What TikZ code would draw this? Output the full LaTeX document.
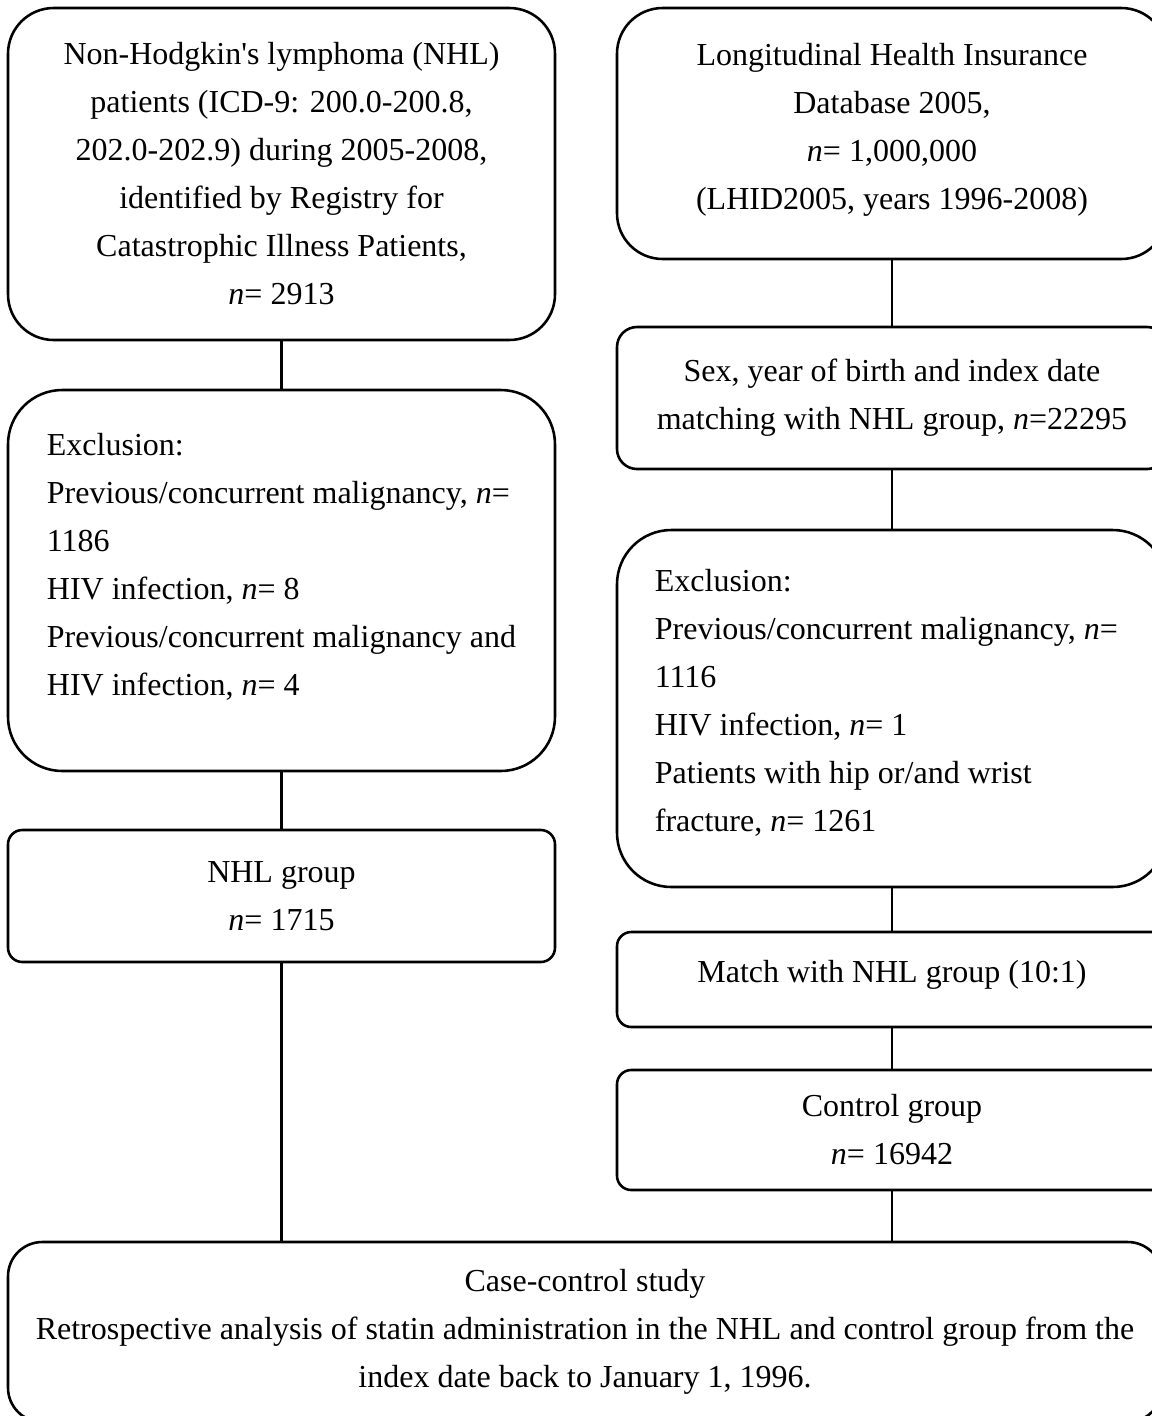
\documentclass[tikz,border=0pt]{standalone}
\usepackage{fontspec}
\setmainfont{Liberation Serif}

\begin{document}
\begin{tikzpicture}[x=0.35pt,y=-0.35pt,
  box/.style={draw,line width=0.9pt,inner sep=0pt,font=\fontsize{11.2}{16.8}\selectfont},
  link/.style={line width=0.9pt}]
\useasboundingbox (0,0) rectangle (1152,1416);

\path (281.5,174) node[box,rounded corners=16pt,minimum width=191.45pt,minimum height=116.2pt,align=center] (nhl)
  {Non-Hodgkin\textquotesingle s lymphoma (NHL)\\patients (ICD-9: 200.0-200.8,\\202.0-202.9) during 2005-2008,\\identified by Registry for\\Catastrophic Illness Patients,\\\textit{n}= 2913};
\path (281.5,580.5) node[box,rounded corners=19pt,minimum width=191.45pt,minimum height=133.35pt,align=left,text depth=11.4pt] (nhlex)
  {Exclusion:\\Previous/concurrent malignancy, \textit{n}=\\1186\\HIV infection, \textit{n}= 8\\Previous/concurrent malignancy and\\HIV infection, \textit{n}= 4};
\path (281.5,896) node[box,rounded corners=5pt,minimum width=191.45pt,minimum height=46.2pt,align=center] (nhlgrp)
  {NHL group\\\textit{n}= 1715};

\path (892,133.5) node[box,rounded corners=16pt,minimum width=192.5pt,minimum height=87.85pt,align=center,text depth=5.3pt] (lhid)
  {Longitudinal Health Insurance\\Database 2005,\\\textit{n}= 1,000,000\\(LHID2005, years 1996-2008)};
\path (892,398) node[box,rounded corners=7pt,minimum width=192.5pt,minimum height=49.7pt,align=center] (sex)
  {Sex, year of birth and index date\\matching with NHL group, \textit{n}=22295};
\path (892,708.5) node[box,rounded corners=19pt,minimum width=192.5pt,minimum height=124.95pt,text width=166pt,align=flush left,text depth=90pt] (ctlex)
  {Exclusion:\\Previous/concurrent malignancy, \textit{n}=\\1116\\HIV infection, \textit{n}= 1\\Patients with hip or/and wrist\\fracture, \textit{n}= 1261};
\path (892,979.5) node[box,rounded corners=5pt,minimum width=192.5pt,minimum height=33.25pt,align=center,text depth=6pt] (match)
  {Match with NHL group (10:1)};
\path (892,1130) node[box,rounded corners=5pt,minimum width=192.5pt,minimum height=42pt,align=center] (ctlgrp)
  {Control group\\\textit{n}= 16942};

\path (585,1332) node[box,rounded corners=12pt,minimum width=403.9pt,minimum height=63pt,align=center] (study)
  {Case-control study\\Retrospective analysis of statin administration in the NHL and control group from the\\index date back to January 1, 1996.};

\draw[link] (nhl) -- (nhlex);
\draw[link] (nhlex) -- (nhlgrp);
\draw[link] (nhlgrp) -- (nhlgrp |- study.north);
\draw[link] (lhid) -- (sex);
\draw[link] (sex) -- (ctlex);
\draw[link] (ctlex) -- (match);
\draw[link] (match) -- (ctlgrp);
\draw[link] (ctlgrp) -- (ctlgrp |- study.north);
\end{tikzpicture}
\end{document}
